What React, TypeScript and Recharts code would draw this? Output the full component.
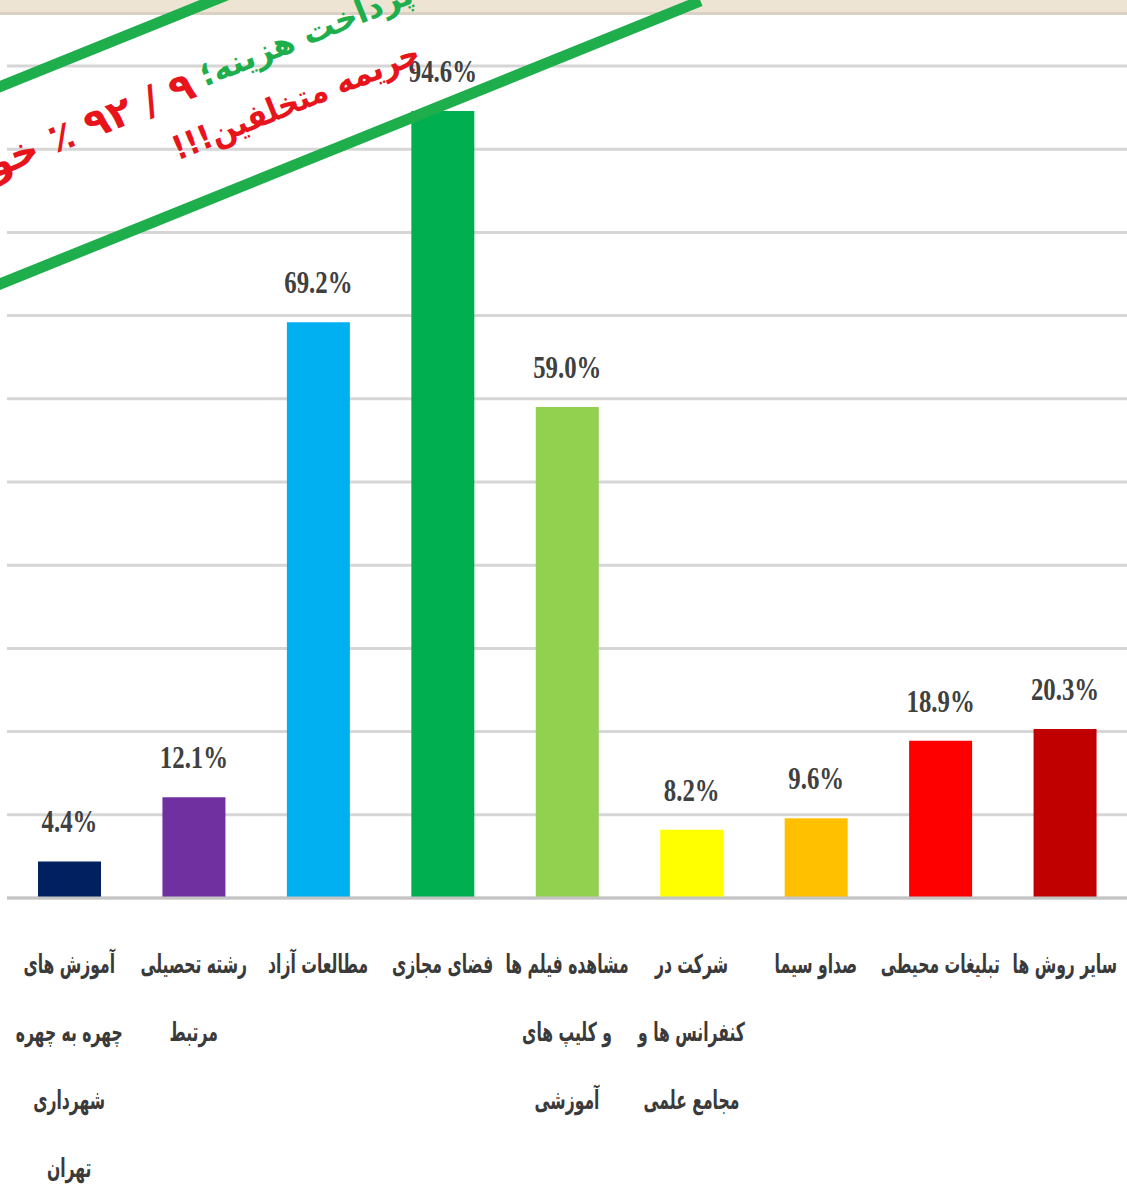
import { BarChart, Bar, XAxis, YAxis, CartesianGrid, Cell, LabelList } from 'recharts';

// categories, one string per line of the axis label
const categories = [
  ['آموزش های', 'چهره به چهره', 'شهرداری', 'تهران'],
  ['رشته تحصیلی', 'مرتبط'],
  ['مطالعات آزاد'],
  ['فضای مجازی'],
  ['مشاهده فیلم ها', 'و کلیپ های', 'آموزشی'],
  ['شرکت در', 'کنفرانس ها و', 'مجامع علمی'],
  ['صداو سیما'],
  ['تبلیغات محیطی'],
  ['سایر روش ها'],
];
const values = [4.4, 12.1, 69.2, 94.6, 59.0, 8.2, 9.6, 18.9, 20.3];
const colors = ['#002060', '#7030a0', '#00b0f0', '#00b050', '#92d050', '#ffff00', '#ffc000', '#ff0000', '#c00000'];
const yTicks = [0, 10, 20, 30, 40, 50, 60, 70, 80, 90, 100];

const bannerGreen = 'بدون پرداخت هزینه؛';
const bannerRed1 = '۹ / ۹۲ ٪ خواهان';
const bannerRed2 = 'جریمه متخلفین!!!';

const data = categories.map((lines, i) => ({ name: lines.join('\n'), value: values[i] }));

const CategoryTick = ({ x, y, payload }: any) => {
  const lines: string[] = String(payload.value).split('\n');
  return (
    <g transform={`translate(${x},${y})`}>
      {lines.map((line, i) => (
        <text
          key={i}
          transform={`translate(0,${73 + i * 68}) scale(0.6,1)`}
          textAnchor="middle"
          direction="rtl"
          fontFamily="DejaVu Sans"
          fontWeight="bold"
          fontSize={26}
          fill="#3a3a3a"
        >
          {line}
        </text>
      ))}
    </g>
  );
};

const ValueLabel = ({ x, y, width, value }: any) => (
  <text
    transform={`translate(${x + width / 2},${y - 29}) scale(0.8,1)`}
    textAnchor="middle"
    fontFamily="Liberation Serif"
    fontWeight="bold"
    fontSize={31}
    fill="#404040"
  >
    {`${Number(value).toFixed(1)}%`}
  </text>
);

const Banner = () => (
  <svg width={1127} height={1196} style={{ position: 'absolute', left: 0, top: 0, pointerEvents: 'none' }}>
    <rect x={0} y={0} width={1127} height={12} fill="#eee4d4" />
    <rect x={0} y={12} width={1127} height={3} fill="#d9d1c4" />
    <g transform="translate(0,284) rotate(-22)">
      <rect x={-300} y={-183} width={1050} height={183} fill="none" stroke="#1fae4c" strokeWidth={11} />
      <text x={264} y={-106} direction="rtl" textAnchor="end" fontFamily="DejaVu Sans" fontWeight="bold" fontSize={32} fill="#1fae4c">
        {bannerGreen}
      </text>
      <text x={254} y={-100} direction="rtl" textAnchor="start" fontFamily="DejaVu Sans" fontWeight="bold" fontSize={40} fill="#e8141b">
        {bannerRed1}
      </text>
      <text transform="translate(343,-48) scale(0.9,1)" direction="rtl" textAnchor="middle" fontFamily="DejaVu Sans" fontWeight="bold" fontSize={33} fill="#e8141b">
        {bannerRed2}
      </text>
    </g>
  </svg>
);

export default function App() {
  return (
    <div style={{ position: 'absolute', left: 0, top: 0, width: 1127, height: 1196, background: '#ffffff', overflow: 'hidden' }}>
      <BarChart width={1127} height={1196} data={data} margin={{ top: 66, right: 0, bottom: 0, left: 7 }} barSize={63}>
        <CartesianGrid vertical={false} stroke="#d6d6d6" strokeWidth={3} />
        <YAxis hide domain={[0, 100]} ticks={yTicks} />
        <XAxis
          dataKey="name"
          height={298}
          interval={0}
          tickLine={false}
          tickSize={0}
          axisLine={{ stroke: '#c4c4c4', strokeWidth: 3 }}
          tick={<CategoryTick />}
        />
        <Bar dataKey="value" isAnimationActive={false}>
          {data.map((_, i) => (
            <Cell key={`cell-${i}`} fill={colors[i]} />
          ))}
          <LabelList dataKey="value" content={<ValueLabel />} />
        </Bar>
      </BarChart>
      <Banner />
    </div>
  );
}
